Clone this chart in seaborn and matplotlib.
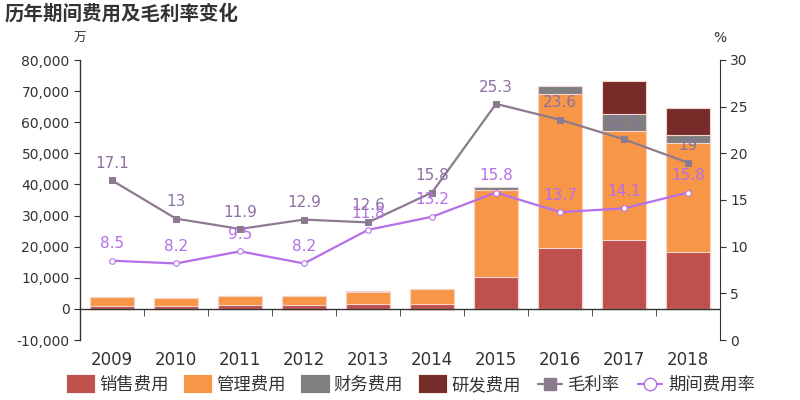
import numpy as np
import pandas as pd
import matplotlib
matplotlib.use("Agg")
import matplotlib.pyplot as plt
import seaborn as sns
from matplotlib.lines import Line2D
from matplotlib.ticker import FuncFormatter, MultipleLocator, FixedLocator

years = ["2009", "2010", "2011", "2012", "2013", "2014", "2015", "2016", "2017", "2018"]
sales = [1030, 930, 1160, 1160, 1670, 1670, 10350, 19670, 22050, 18190]
admin = [2890, 2570, 3080, 2890, 3660, 4830, 27970, 49410, 35230, 35140]
finance = [0, 0, 0, -450, 430, -450, 960, 2670, 5450, 2470]
rnd = [0, 0, 0, 0, 0, 0, 0, 0, 10430, 8780]
gross_margin = [17.1, 13, 11.9, 12.9, 12.6, 15.8, 25.3, 23.6, 21.5, 19]
period_rate = [8.5, 8.2, 9.5, 8.2, 11.8, 13.2, 15.8, 13.7, 14.1, 15.8]

c_sales, c_admin, c_fin, c_rnd = "#c0504d", "#f79646", "#7f7f7f", "#772c2a"
c_gm, c_pr = "#8c7b8e", "#b56fe8"
c_gm_lbl = "#8c70a2"

sns.set_style("white")
plt.rcParams["font.family"] = ["DejaVu Sans", "Noto Sans CJK SC"]

df = pd.DataFrame({"year": years, "sales": sales, "admin": admin,
                   "finance": finance, "rnd": rnd})
fin_pos = df["finance"].clip(lower=0)
fin_neg = df["finance"].clip(upper=0)
df["c1"] = df["sales"]
df["c2"] = df["c1"] + df["admin"]
df["c3"] = df["c2"] + fin_pos
df["c4"] = df["c3"] + df["rnd"]
df["neg"] = fin_neg

fig = plt.figure(figsize=(8, 4), dpi=100)
ax = fig.add_axes([0.1, 0.15, 0.8, 0.7])

# layered cumulative bars, back to front
for col, color in [("c4", c_rnd), ("c3", c_fin), ("c2", c_admin), ("c1", c_sales), ("neg", c_fin)]:
    sns.barplot(data=df, x="year", y=col, color=color, width=0.7, ax=ax,
                edgecolor="#f5d5cf", linewidth=0.8, saturation=1, errorbar=None)

ax.set_ylim(-10000, 80000)
ax.set_xlim(-0.5, 9.5)
ax.yaxis.set_major_locator(MultipleLocator(10000))
ax.yaxis.set_major_formatter(FuncFormatter(lambda v, p: f"{int(v):,}"))
ax.set_xlabel("")
ax.set_ylabel("")
ax.spines["top"].set_visible(False)
ax.spines["right"].set_visible(False)
ax.spines["bottom"].set_position(("data", 0))
for s in ["left", "bottom"]:
    ax.spines[s].set_color("#333333")
    ax.spines[s].set_linewidth(1)
ax.tick_params(axis="y", labelsize=10, colors="#333333", length=4, left=True)
ax.tick_params(axis="x", which="major", length=0, pad=30, labelsize=12, colors="#333333")
ax.xaxis.set_minor_locator(FixedLocator(np.arange(0.5, 9.5, 1)))
ax.tick_params(axis="x", which="minor", length=5, direction="out", color="#333333", bottom=True)

ax2 = ax.twinx()
x = np.arange(len(years))
sns.lineplot(x=x, y=gross_margin, ax=ax2, color=c_gm, marker="s", markersize=4,
             markeredgecolor=c_gm, linewidth=1.6)
sns.lineplot(x=x, y=period_rate, ax=ax2, color=c_pr, marker="o", markersize=4,
             markerfacecolor="white", markeredgecolor=c_pr, linewidth=1.6)
for xi, v in zip(x, gross_margin):
    ax2.text(xi, v + 1.0, f"{v:g}", ha="center", va="bottom", fontsize=11, color=c_gm_lbl)
for xi, v in zip(x, period_rate):
    ax2.text(xi, v + 1.0, f"{v:g}", ha="center", va="bottom", fontsize=11, color=c_pr)
ax2.set_ylim(0, 30)
ax2.yaxis.set_major_locator(MultipleLocator(5))
ax2.spines["top"].set_visible(False)
ax2.spines["left"].set_visible(False)
ax2.spines["bottom"].set_visible(False)
ax2.spines["right"].set_color("#333333")
ax2.tick_params(axis="y", labelsize=10, colors="#333333", length=4, right=True)
ax2.set_xlim(-0.5, 9.5)

fig.text(0.006, 0.965, "历年期间费用及毛利率变化", fontsize=14, fontweight="bold",
         color="#333333", ha="left", va="center", family=["Noto Sans CJK SC"])
fig.text(0.1, 0.905, "万", fontsize=9, color="#333333", ha="center", va="center",
         family=["Noto Sans CJK SC"])
fig.text(0.9, 0.905, "%", fontsize=10, color="#333333", ha="center", va="center")

def patch(color):
    return plt.Rectangle((0, 0), 1, 1, facecolor=color, edgecolor=color,
                         linewidth=3, joinstyle="round")

handles = [
    patch(c_sales), patch(c_admin), patch(c_fin), patch(c_rnd),
    Line2D([0], [0], color=c_gm, marker="s", markersize=9, linewidth=1.6),
    Line2D([0], [0], color=c_pr, marker="o", markersize=9, markerfacecolor="white", linewidth=1.6),
]
labels = ["销售费用", "管理费用", "财务费用", "研发费用", "毛利率", "期间费用率"]
leg = fig.legend(handles, labels, loc="center", bbox_to_anchor=(0.515, 0.037), ncol=6,
                 frameon=False, handlelength=1.4, handleheight=0.9,
                 columnspacing=1.0, handletextpad=0.35,
                 prop={"family": ["Noto Sans CJK SC"], "size": 12.5})
for t in leg.get_texts():
    t.set_color("#333333")

fig.savefig("out.png", dpi=100)
